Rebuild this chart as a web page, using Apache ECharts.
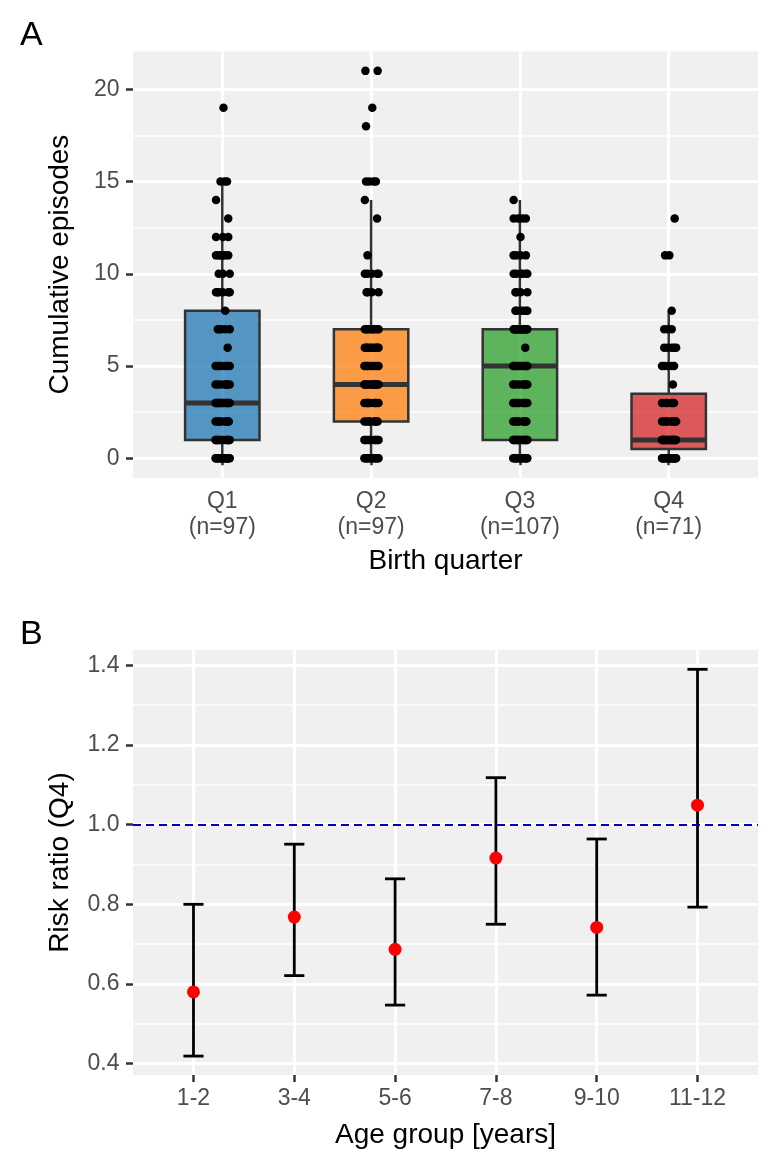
<!DOCTYPE html>
<html><head><meta charset="utf-8">
<script src="https://cdn.jsdelivr.net/npm/echarts@6/dist/echarts.min.js"></script>
<style>html,body{margin:0;padding:0;background:#fff}#c{width:779px;height:1171px}</style>
</head><body><div id="c"></div>
<script>
// ---------- Panel A data ----------
const quarters = ['Q1', 'Q2', 'Q3', 'Q4'];
const quarterN = [97, 97, 107, 71];
const episodeTicks = [0, 5, 10, 15, 20];
// counts of children per cumulative-episode value (index = episodes 0..21)
const q1Counts = [18, 14, 8, 12, 7, 7, 1, 5, 1, 6, 3, 6, 3, 1, 1, 3, 0, 0, 0, 1, 0, 0];
const q2Counts = [12, 10, 8, 9, 12, 8, 9, 9, 0, 4, 5, 1, 0, 1, 1, 4, 0, 0, 1, 1, 0, 2];
const q3Counts = [14, 16, 8, 8, 7, 10, 1, 17, 6, 4, 6, 4, 1, 4, 1, 0, 0, 0, 0, 0, 0, 0];
const q4Counts = [18, 20, 9, 6, 1, 5, 5, 3, 1, 0, 0, 2, 0, 1, 0, 0, 0, 0, 0, 0, 0, 0];
// boxplot statistics
const boxLow = [0, 0, 0, 0];
const boxQ1 = [1, 2, 1, 0.5];
const boxMed = [3, 4, 5, 1];
const boxQ3 = [8, 7, 7, 3.5];
const boxHigh = [15, 14, 14, 8];
// horizontal jitter offsets (category units) read from the dot clusters
const jitterPattern = [0.012, -0.038, 0.044, -0.016, 0.028, -0.045, 0.036, -0.006, 0.02, -0.03,
                       0.05, -0.024, 0.004, 0.04, -0.042, 0.016, -0.012, 0.032, -0.034, 0.008];

// ---------- Panel B data ----------
const ageGroups = ['1-2', '3-4', '5-6', '7-8', '9-10', '11-12'];
const riskRatio = [0.58, 0.768, 0.687, 0.916, 0.742, 1.049];
const riskLow = [0.419, 0.621, 0.547, 0.750, 0.572, 0.793];
const riskHigh = [0.800, 0.951, 0.864, 1.118, 0.964, 1.390];
const riskTicks = [0.4, 0.6, 0.8, 1.0, 1.2, 1.4];
const referenceRatio = 1.0;

// ---------- styling ----------
const FONT = 'Liberation Sans, Arial, Helvetica, sans-serif';
const PANEL_BG = '#F0F0F0';
const boxFill = ['rgba(31,119,180,0.75)', 'rgba(255,127,14,0.75)', 'rgba(44,160,44,0.75)', 'rgba(214,39,40,0.75)'];
const boxHalfWidth = 0.25;
const capHalfWidth = 0.1;

const countsByGroup = [q1Counts, q2Counts, q3Counts, q4Counts];
const jitterPoints = [];
countsByGroup.forEach((counts, g) => {
  counts.forEach((c, v) => {
    for (let j = 0; j < c; j++) {
      jitterPoints.push([g + 1 + jitterPattern[(j + v) % jitterPattern.length], v]);
    }
  });
});
const boxData = quarters.map((q, i) => [i + 1, boxLow[i], boxQ1[i], boxMed[i], boxQ3[i], boxHigh[i]]);
const errData = ageGroups.map((a, i) => [i + 1, riskLow[i], riskHigh[i]]);
const pointData = ageGroups.map((a, i) => [i + 1, riskRatio[i]]);

function renderBox(params, api) {
  const x = api.value(0);
  const lo = api.coord([x, api.value(1)]);
  const q1 = api.coord([x, api.value(2)]);
  const med = api.coord([x, api.value(3)]);
  const q3 = api.coord([x, api.value(4)]);
  const hi = api.coord([x, api.value(5)]);
  const left = api.coord([x - boxHalfWidth, 0])[0];
  const right = api.coord([x + boxHalfWidth, 0])[0];
  const ls = { stroke: '#333333', lineWidth: 2.5 };
  return { type: 'group', children: [
    { type: 'line', shape: { x1: lo[0], y1: lo[1], x2: q1[0], y2: q1[1] }, style: ls },
    { type: 'line', shape: { x1: q3[0], y1: q3[1], x2: hi[0], y2: hi[1] }, style: ls },
    { type: 'rect', shape: { x: left, y: q3[1], width: right - left, height: q1[1] - q3[1] },
      style: { fill: boxFill[params.dataIndex], stroke: '#333333', lineWidth: 2.5 } },
    { type: 'line', shape: { x1: left, y1: med[1], x2: right, y2: med[1] }, style: { stroke: '#333333', lineWidth: 5 } }
  ]};
}
function renderErr(params, api) {
  const x = api.value(0);
  const lo = api.coord([x, api.value(1)]);
  const hi = api.coord([x, api.value(2)]);
  const l = api.coord([x - capHalfWidth, 0])[0];
  const r = api.coord([x + capHalfWidth, 0])[0];
  const ls = { stroke: '#000', lineWidth: 2.8 };
  return { type: 'group', children: [
    { type: 'line', shape: { x1: lo[0], y1: lo[1], x2: hi[0], y2: hi[1] }, style: ls },
    { type: 'line', shape: { x1: l, y1: hi[1], x2: r, y2: hi[1] }, style: ls },
    { type: 'line', shape: { x1: l, y1: lo[1], x2: r, y2: lo[1] }, style: ls }
  ]};
}

function yAxisCfg(grid, min, max, ticks, name, fmt) {
  return {
    gridIndex: grid, type: 'value', min: min, max: max, splitNumber: 5,
    axisLine: { show: false },
    axisTick: { show: true, length: 7, lineStyle: { color: '#333333', width: 2.5 }, customValues: ticks },
    axisLabel: { customValues: ticks, fontSize: 23, color: '#4d4d4d', margin: 13.5, fontFamily: FONT, formatter: fmt },
    splitLine: { show: true, lineStyle: { color: '#ffffff', width: 3.2 } },
    minorTick: { show: false, splitNumber: 2 },
    minorSplitLine: { show: true, lineStyle: { color: '#ffffff', width: 1.6 } },
    name: name, nameLocation: 'middle', nameGap: 59, nameRotate: 90,
    nameTextStyle: { fontSize: 28, color: '#000', fontFamily: FONT, lineHeight: 28 }
  };
}
function xAxisCfg(grid, n, fmt, name, gap) {
  const ticks = [];
  for (let i = 1; i <= n; i++) ticks.push(i);
  return {
    gridIndex: grid, type: 'value', min: 0.4, max: n + 0.6, position: 'bottom',
    axisLine: { show: false },
    axisTick: { show: true, length: 7, lineStyle: { color: '#333333', width: 2.5 }, customValues: ticks },
    axisLabel: { customValues: ticks, fontSize: 23, color: '#4d4d4d', margin: 11, lineHeight: 26, fontFamily: FONT, formatter: fmt },
    splitLine: { show: true, lineStyle: { color: '#ffffff', width: 3.2 } },
    minorSplitLine: { show: false },
    name: name, nameLocation: 'middle', nameGap: gap,
    nameTextStyle: { fontSize: 28, color: '#000', fontFamily: FONT, lineHeight: 28 }
  };
}

const chart = echarts.init(document.getElementById('c'), null, { renderer: 'canvas' });
chart.setOption({
  animation: false,
  backgroundColor: '#ffffff',
  textStyle: { fontFamily: FONT },
  grid: [
    { left: 133, right: 21, top: 51.5, bottom: 693.3, show: true, backgroundColor: PANEL_BG, borderWidth: 0, containLabel: false, outerBoundsMode: 'none' },
    { left: 133, right: 21, top: 650, bottom: 96, show: true, backgroundColor: PANEL_BG, borderWidth: 0, containLabel: false, outerBoundsMode: 'none' }
  ],
  xAxis: [
    xAxisCfg(0, quarters.length, v => {
      const i = Math.round(v) - 1;
      return quarters[i] + '\n(n=' + quarterN[i] + ')';
    }, 'Birth quarter', 70),
    xAxisCfg(1, ageGroups.length, v => ageGroups[Math.round(v) - 1], 'Age group [years]', 46)
  ],
  yAxis: [
    yAxisCfg(0, -1.05, 22.05, episodeTicks, 'Cumulative episodes', v => String(v)),
    yAxisCfg(1, 0.3715, 1.4385, riskTicks, 'Risk ratio (Q4)', v => v.toFixed(1))
  ],
  graphic: [
    { type: 'text', x: 20, y: 36, style: { text: 'A', fontSize: 34, fontFamily: FONT, fill: '#000', verticalAlign: 'middle', align: 'left' } },
    { type: 'text', x: 20, y: 634.5, style: { text: 'B', fontSize: 34, fontFamily: FONT, fill: '#000', verticalAlign: 'middle', align: 'left' } }
  ],
  series: [
    { type: 'custom', xAxisIndex: 0, yAxisIndex: 0, data: boxData, renderItem: renderBox, z: 2,
      encode: { x: 0, y: [1, 2, 3, 4, 5] }, silent: true },
    { type: 'scatter', xAxisIndex: 0, yAxisIndex: 0, data: jitterPoints, symbol: 'circle', symbolSize: 8.5,
      itemStyle: { color: '#000', opacity: 1 }, z: 3, silent: true },
    { type: 'line', xAxisIndex: 1, yAxisIndex: 1, data: [], z: 1, silent: true,
      markLine: { silent: true, symbol: ['none', 'none'], label: { show: false },
        lineStyle: { color: '#0000c0', width: 1.8, type: [8, 5] },
        data: [{ yAxis: referenceRatio }] } },
    { type: 'custom', xAxisIndex: 1, yAxisIndex: 1, data: errData, renderItem: renderErr, z: 2,
      encode: { x: 0, y: [1, 2] }, silent: true },
    { type: 'scatter', xAxisIndex: 1, yAxisIndex: 1, data: pointData, symbol: 'circle', symbolSize: 13,
      itemStyle: { color: '#ff0000', opacity: 1 }, z: 3, silent: true }
  ]
});
</script>
</body></html>
